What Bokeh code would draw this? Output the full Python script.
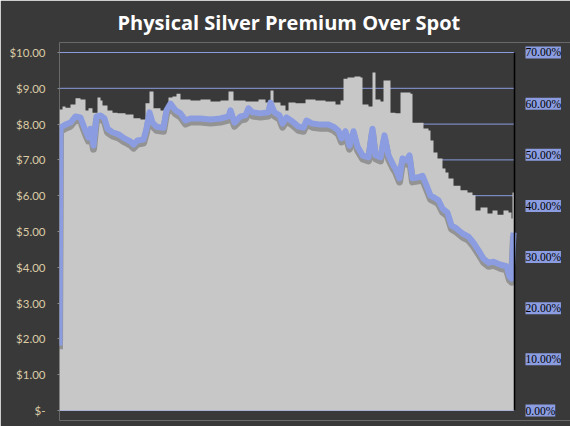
from bokeh.plotting import figure
from bokeh.models import Range1d, FixedTicker, ColumnDataSource, LabelSet
from bokeh.embed import file_html
from bokeh.resources import INLINE

# ---- data ----
day = [0, 3, 6, 11, 16, 21, 26, 29, 33, 38, 41, 43, 48, 53, 58, 66, 74, 81, 86, 90,
       94, 101, 109, 113, 117, 121, 131, 141, 151, 161, 169, 174, 186, 199, 206, 211,
       214, 221, 226, 229, 236, 246, 256, 266, 276, 281, 284, 288, 295, 301, 303, 309,
       313, 316, 321, 324, 331, 336, 341, 351, 353, 359, 364, 369, 371, 374, 378, 383,
       386, 389, 394, 401, 408, 413, 416, 421, 428, 433, 438, 444, 449, 452, 453, 455]
price = [8.41, 8.49, 8.46, 8.55, 8.72, 8.69, 8.38, 8.44, 8.32, 8.74, 8.66, 8.52, 8.38,
         8.32, 8.30, 8.27, 8.16, 8.13, 8.58, 8.91, 8.44, 8.38, 8.74, 8.77, 8.85, 8.69,
         8.66, 8.69, 8.63, 8.66, 8.91, 8.66, 8.63, 8.69, 8.60, 8.94, 8.60, 8.52, 8.38,
         8.60, 8.58, 8.69, 8.66, 8.63, 8.55, 8.66, 9.27, 9.30, 9.33, 9.30, 8.55, 8.49,
         9.44, 8.69, 8.63, 9.22, 8.32, 8.30, 8.88, 8.85, 8.04, 8.04, 7.88, 7.82, 7.54,
         7.21, 7.04, 6.76, 6.65, 6.48, 6.28, 6.15, 6.09, 6.01, 5.59, 5.67, 5.50, 5.59,
         5.47, 5.59, 5.53, 5.36, 6.09, 6.09]

pct_day = [0, 1, 6, 11, 16, 21, 26, 29, 31, 34, 37, 41, 45, 48, 53, 59, 65, 71, 74, 78,
           84, 87, 90, 93, 97, 104, 107, 111, 116, 121, 126, 131, 141, 151, 161, 169,
           171, 175, 181, 186, 189, 193, 201, 209, 211, 215, 220, 223, 227, 233, 239,
           244, 247, 253, 261, 269, 274, 279, 282, 286, 290, 294, 298, 303, 309, 313,
           316, 321, 325, 329, 334, 336, 340, 343, 347, 350, 353, 359, 363, 367, 371,
           375, 379, 383, 388, 392, 397, 403, 409, 414, 419, 424, 429, 434, 441, 447,
           450, 452, 454]
premium_pct = [12.7, 55.3, 55.9, 56.3, 57.5, 57.3, 54.7, 53.4, 55.1, 51.8, 57.5, 57.7,
               57.1, 55.1, 54.4, 54.0, 53.2, 52.6, 52.0, 52.8, 53.0, 55.1, 58.3, 56.3,
               55.5, 55.3, 58.7, 60.0, 58.7, 58.1, 56.7, 57.1, 57.1, 56.9, 57.1, 57.5,
               58.7, 56.3, 57.5, 57.7, 59.1, 58.3, 58.1, 58.3, 60.2, 58.3, 57.7, 56.1,
               57.3, 56.5, 55.5, 55.3, 56.7, 56.1, 55.9, 55.9, 55.5, 54.7, 53.2, 54.6,
               51.8, 54.6, 51.6, 49.9, 49.5, 55.1, 49.9, 49.5, 53.8, 49.9, 47.9, 47.3,
               45.4, 49.3, 48.9, 49.9, 45.4, 45.6, 45.9, 44.0, 42.0, 41.6, 41.1, 39.5,
               38.7, 36.2, 35.6, 34.6, 34.0, 32.8, 31.3, 29.7, 28.9, 29.1, 28.5, 28.2,
               26.2, 25.8, 34.8]

dollar_ticks = [0, 1, 2, 3, 4, 5, 6, 7, 8, 9, 10]
dollar_labels = ["$-", "$1.00", "$2.00", "$3.00", "$4.00", "$5.00", "$6.00", "$7.00",
                 "$8.00", "$9.00", "$10.00"]
pct_ticks = [0, 10, 20, 30, 40, 50, 60, 70]
pct_labels = ["0.00%", "10.00%", "20.00%", "30.00%", "40.00%", "50.00%", "60.00%", "70.00%"]

title_text = "Physical Silver Premium Over Spot"

# ---- styling ----
BG = "#393939"
AREA = "#c7c7c7"
BLUE = "#8b9de0"
TAN = "#dccba6"
FONT = "Lato"

x_end = day[-1]
d_max = dollar_ticks[-1]
p_max = pct_ticks[-1]
pad = 0.2793          # extra room (in $) around the value span so edge labels are not clipped
ratio = p_max / d_max

# frame spans to the right page edge; the data ends where the right axis line sits
p = figure(width=570, height=426, output_backend="svg", toolbar_location=None,
           x_range=Range1d(0, x_end + 56), y_range=Range1d(-pad, d_max + pad),
           min_border_left=59, min_border_right=0, min_border_top=42, min_border_bottom=6)
p.extra_y_ranges = {"pct": Range1d(-pad * ratio, p_max + pad * ratio),
                    "pct_shadow": Range1d(-pad * ratio + 0.7, p_max + pad * ratio + 0.7)}

p.background_fill_color = BG
p.border_fill_color = BG
p.outline_line_color = None

p.title.text = title_text
p.title.align = "left"
p.title.offset = 58
p.title.text_color = "white"
p.title.text_font = "Open Sans"
p.title.text_font_style = "bold"
p.title.text_font_size = "20px"
p.title.standoff = 13

p.xaxis.visible = False
p.xgrid.visible = False
p.ygrid.visible = False

yax = p.yaxis[0]
yax.ticker = FixedTicker(ticks=dollar_ticks)
yax.major_label_overrides = {t: l for t, l in zip(dollar_ticks, dollar_labels)}
yax.major_label_text_color = TAN
yax.major_label_text_font = FONT
yax.major_label_text_font_size = "11.5px"
yax.axis_line_color = None
yax.major_tick_line_color = "#8a8a8a"
yax.major_tick_out = 2
yax.major_tick_in = 0
yax.minor_tick_line_color = None
yax.major_label_standoff = 12

# grid lines at the dollar ticks, over the data width only
n = len(dollar_ticks)
p.segment(x0=[0] * n, x1=[x_end] * n, y0=dollar_ticks, y1=dollar_ticks,
          line_color=BLUE, line_width=1)

area_src = ColumnDataSource(dict(day=day, price=price))
line_src = ColumnDataSource(dict(day=pct_day, pct=premium_pct))

p.varea_step(x="day", y1=0, y2="price", step_mode="after", source=area_src,
             fill_color=AREA)

p.line(x="day", y="pct", source=line_src, y_range_name="pct_shadow",
       line_color="#333333", line_alpha=0.35, line_width=7, line_join="round")
p.line(x="day", y="pct", source=line_src, y_range_name="pct",
       line_color=BLUE, line_width=6, line_join="round")

# right axis line
p.segment(x0=[x_end], x1=[x_end], y0=[0], y1=[d_max], line_color="black", line_width=1.5)

# right-hand percent tick labels with blue background
lab_src = ColumnDataSource(dict(x=[x_end] * len(pct_ticks), y=pct_ticks, text=pct_labels))
labels = LabelSet(x="x", y="y", text="text", source=lab_src, y_range_name="pct",
                  x_offset=11, text_align="left", text_baseline="middle",
                  text_color="black", text_font=FONT, text_font_size="11.5px",
                  background_fill_color=BLUE)
if "padding" in labels.properties():
    labels.padding = 0
p.add_layout(labels)

open("out.html", "w").write(file_html(p, INLINE))
